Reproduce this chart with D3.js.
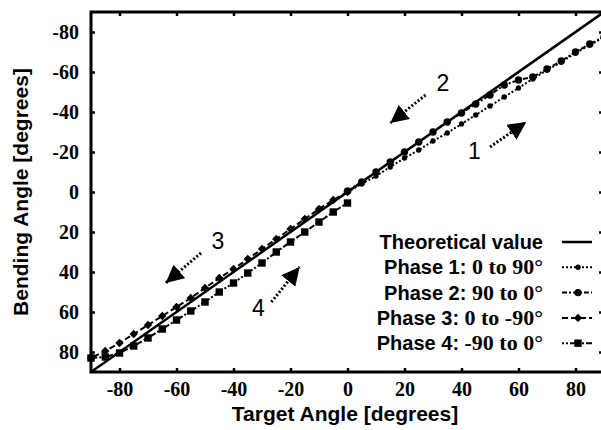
<html>
<script src='https://d3js.org/d3.v7.min.js'></script>
<style>
  body { margin: 0; background: #fff; }
  .tick text { font-family: "Liberation Serif", serif; font-size: 20px; font-weight: bold; }
  .title { font-family: "Liberation Sans", Arial, sans-serif; font-size: 21px; font-weight: bold; }
  .leg { font-family: "Liberation Sans", Arial, sans-serif; font-size: 20px; font-weight: bold; }
  .num { font-family: "Liberation Sans", Arial, sans-serif; font-size: 23px; }
</style>
<body onload='init()'>
<svg width=601 height=430></svg>
<script>
// data: target angle -> bending angle
var targetsUp = [0,5,10,15,20,25,30,35,40,45,50,55,60,65,70,75,80,85,90];
var targetsDown = [0,-5,-10,-15,-20,-25,-30,-35,-40,-45,-50,-55,-60,-65,-70,-75,-80,-85,-90];

var phase1 = [0,-4,-8,-12.5,-17,-21,-25.5,-29.5,-34,-38.5,-43,-47.5,-52,-56.5,-61,-65,-69.5,-73.5,-77.5];
var phase2 = [-0.5,-5,-10,-15,-20,-25,-30,-35,-39.5,-44,-48.5,-53.5,-56,-57.5,-61.5,-65.5,-70,-74,-77.5];
var phase3 = [0,4,8.5,13.5,18.5,23.5,28.5,33.5,38.5,43,48,53,57.5,62,66.5,71,75.5,79.5,83];
var phase4 = [5.5,10,15,20,25,30,35.5,40.5,45.5,50,55,59.5,64,68.5,73,77,80.5,82.5,83];

var theoTarget = [-90, 90];
var theoBending = [90, -90];
var xTicks = [-80,-60,-40,-20,0,20,40,60,80];
var yTicks = [-80,-60,-40,-20,0,20,40,60,80];

var legendLabels = [
  ["Theoretical value", ""],
  ["Phase 1:", " 0 to 90°"],
  ["Phase 2:", " 90 to 0°"],
  ["Phase 3:", " 0 to -90°"],
  ["Phase 4:", " -90 to 0°"]
];

// arrows: [x0, y0, x1 (tip), y1 (tip), label, labelX, labelY]
var arrows = [
  [50, -22.5, 62.7, -35, "1", 44.5, -16.5],
  [27.4, -48.5, 15, -34.5, "2", 33.5, -50.5],
  [-51.4, 30.5, -63.8, 45.5, "3", -45.5, 28.5],
  [-26.7, 55, -16.8, 37.5, "4", -31.3, 62]
];

function init() {
  var svg = d3.select("svg");
  var x = d3.scaleLinear().domain([-90, 90]).range([91, 604]);
  var y = d3.scaleLinear().domain([-90, 90]).range([12, 372]);

  var styles = [
    {data: phase1, t: targetsUp, dash: "2,2", marker: "circle", r: 2.7},
    {data: phase2, t: targetsUp, dash: "5,2,2,2", marker: "circle", r: 3.7},
    {data: phase3, t: targetsDown, dash: "6,3", marker: "diamond", r: 3.2},
    {data: phase4, t: targetsDown, dash: "2,2,2,2,6,2", marker: "square", r: 3.7}
  ];

  // axes (inward ticks on all sides)
  svg.append("g").attr("transform", "translate(0,372)")
    .call(d3.axisBottom(x).tickValues(xTicks).tickSizeInner(-4).tickSizeOuter(0).tickPadding(10).tickFormat(d => String(d)))
    .call(g => g.select(".domain").remove());
  svg.append("g").attr("transform", "translate(0,12)")
    .call(d3.axisTop(x).tickValues(xTicks).tickSizeInner(-4).tickSizeOuter(0).tickFormat(""))
    .call(g => g.select(".domain").remove());
  svg.append("g").attr("transform", "translate(91,0)")
    .call(d3.axisLeft(y).tickValues(yTicks).tickSizeInner(-4).tickSizeOuter(0).tickPadding(12).tickFormat(d => String(d)))
    .call(g => g.select(".domain").remove());
  svg.append("g").attr("transform", "translate(604,0)")
    .call(d3.axisRight(y).tickValues(yTicks).tickSizeInner(-5).tickSizeOuter(0).tickFormat(""))
    .call(g => g.select(".domain").remove());
  svg.selectAll(".tick line").attr("stroke-width", 2.5);

  // frame
  svg.append("rect").attr("x", x(-90)).attr("y", y(-90))
    .attr("width", x(90) - x(-90)).attr("height", y(90) - y(-90))
    .attr("fill", "none").attr("stroke", "#000").attr("stroke-width", 3);

  // theoretical
  svg.append("line")
    .attr("x1", x(theoTarget[0])).attr("y1", y(theoBending[0]))
    .attr("x2", x(theoTarget[1])).attr("y2", y(theoBending[1]))
    .attr("stroke", "#000").attr("stroke-width", 2.5);

  var line = d3.line().x(d => x(d[0])).y(d => y(d[1]));

  function drawMarker(g, type, cx, cy, r) {
    if (type === "circle") g.append("circle").attr("cx", cx).attr("cy", cy).attr("r", r);
    else if (type === "square") g.append("rect").attr("x", cx - r).attr("y", cy - r).attr("width", 2 * r).attr("height", 2 * r);
    else g.append("path").attr("d", `M${cx},${cy - r - 1}L${cx + r + 1},${cy}L${cx},${cy + r + 1}L${cx - r - 1},${cy}Z`);
  }

  styles.forEach(function (s) {
    var pts = s.t.map((t, i) => [t, s.data[i]]);
    svg.append("path").datum(pts).attr("d", line)
      .attr("fill", "none").attr("stroke", "#000").attr("stroke-width", 2)
      .attr("stroke-dasharray", s.dash);
    var g = svg.append("g").attr("fill", "#000");
    pts.forEach(p => drawMarker(g, s.marker, x(p[0]), y(p[1]), s.r));
  });

  // arrows
  var defs = svg.append("defs");
  defs.append("marker").attr("id", "ah").attr("viewBox", "0 0 10 10")
    .attr("refX", 10).attr("refY", 5).attr("markerWidth", 6).attr("markerHeight", 6)
    .attr("markerUnits", "strokeWidth").attr("orient", "auto")
    .append("path").attr("d", "M0,0L10,5L0,10Z").attr("fill", "#000");

  arrows.forEach(function (a) {
    svg.append("line")
      .attr("x1", x(a[0])).attr("y1", y(a[1]))
      .attr("x2", x(a[2])).attr("y2", y(a[3]))
      .attr("stroke", "#000").attr("stroke-width", 3)
      .attr("stroke-dasharray", "2,2")
      .attr("marker-end", "url(#ah)");
    svg.append("text").attr("class", "num")
      .attr("x", x(a[5])).attr("y", y(a[6]))
      .attr("text-anchor", "middle").text(a[4]);
  });

  // legend
  var legX = 543, legY0 = 249, legDy = 25.3;
  legendLabels.forEach(function (l, i) {
    var t = svg.append("text").attr("class", "leg")
      .attr("x", legX).attr("y", legY0 + i * legDy).attr("text-anchor", "end");
    t.append("tspan").text(l[0]);
    if (l[1]) t.append("tspan").attr("font-family", "Liberation Serif, serif").attr("font-size", 22).text(l[1]);
    var ly = legY0 + i * legDy - 7;
    var g = svg.append("g").attr("fill", "#000");
    g.append("line").attr("x1", 562).attr("x2", 592).attr("y1", ly).attr("y2", ly)
      .attr("stroke", "#000").attr("stroke-width", i === 0 ? 2.5 : 2)
      .attr("stroke-dasharray", i === 0 ? null : styles[i - 1].dash);
    if (i > 0) drawMarker(g, styles[i - 1].marker, 578, ly, styles[i - 1].r);
  });

  // axis titles
  svg.append("text").attr("class", "title")
    .attr("x", 345).attr("y", 421).attr("text-anchor", "middle")
    .text("Target Angle [degrees]");
  svg.append("text").attr("class", "title")
    .attr("transform", "translate(28,192) rotate(-90)").attr("text-anchor", "middle")
    .text("Bending Angle [degrees]");
}
</script>
</body>
</html>
